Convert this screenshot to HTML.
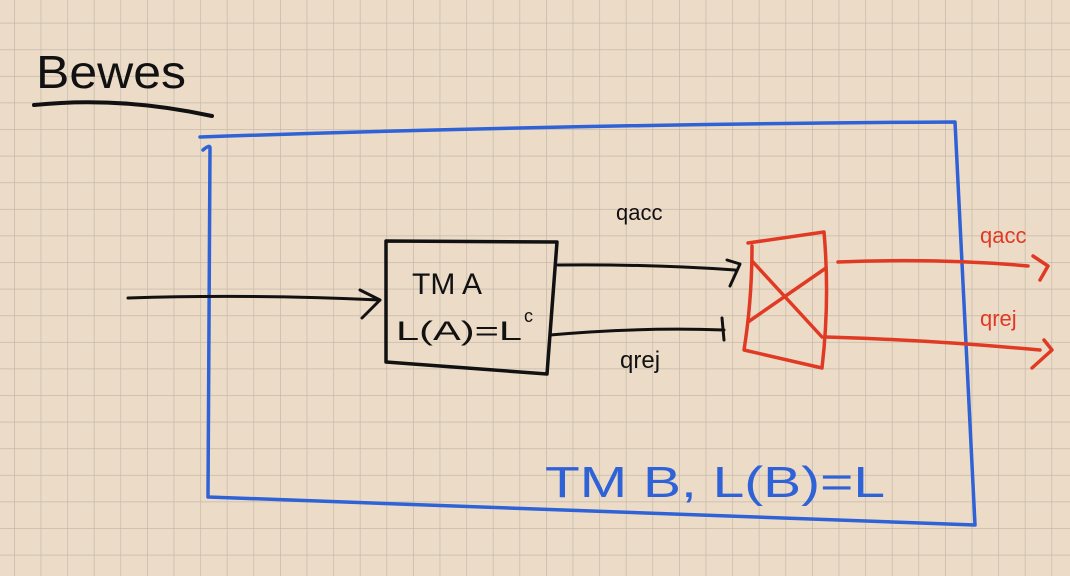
<!DOCTYPE html>
<html><head><style>
html,body{margin:0;padding:0;width:1070px;height:576px;overflow:hidden;background:#ecdcc7;}
svg{display:block}
text{font-family:"Liberation Sans",sans-serif;}
</style></head><body>
<svg width="1070" height="576" viewBox="0 0 1070 576" xmlns="http://www.w3.org/2000/svg">
<defs>
<pattern id="g" x="14" y="22.7" width="26.6" height="26.6" patternUnits="userSpaceOnUse">
<path d="M0 0H26.6M0 0V26.6" stroke="#c5b8aa" stroke-width="1.4" fill="none"/>
</pattern>
</defs>
<rect width="1070" height="576" fill="#ecdcc7"/>
<rect width="1070" height="576" fill="url(#g)"/>
<g fill="none" stroke-linecap="round" stroke-linejoin="round">
<text x="36" y="88" font-size="46" fill="#111" textLength="150" lengthAdjust="spacingAndGlyphs">Bewes</text>
<path d="M34 105 Q120 96 212 116" stroke="#111" stroke-width="4"/>
<path d="M200 137 Q580 124 955 122 L975 525 Q590 512 208 497 L210 148 Q210 144 203 150" stroke="#2f62d6" stroke-width="3.5"/>
<text x="545" y="497" font-size="44" fill="#2f62d6" textLength="340" lengthAdjust="spacingAndGlyphs">TM  B, L(B)=L</text>
<path d="M128 298 Q250 294 380 300 M360 290 L380 300 L362 318" stroke="#111" stroke-width="3"/>
<path d="M386 241 L557 242 L547 374 L386 362 Z" stroke="#111" stroke-width="3.5"/>
<text x="412" y="294" font-size="30" fill="#111">TM  A</text>
<text x="396" y="340" font-size="27" fill="#111" textLength="126" lengthAdjust="spacingAndGlyphs">L(A)=L</text>
<text x="524" y="322" font-size="18" fill="#111">c</text>
<path d="M558 265 Q650 264 735 270 M727 260 L740 264 L730 286" stroke="#111" stroke-width="3"/>
<text x="616" y="220" font-size="22" fill="#111">qacc</text>
<path d="M550 335 Q640 327 724 330 M722 318 L724 340" stroke="#111" stroke-width="3"/>
<text x="620" y="368" font-size="24" fill="#111">qrej</text>
<path d="M748 243 L824 232 Q830 300 822 368 L744 350 Q752 300 752 246 M753 262 L822 337 M748 322 L826 268" stroke="#e03a25" stroke-width="3.5"/>
<path d="M838 262 Q940 258 1028 266 M1033 256 L1048 266 L1040 280" stroke="#e03a25" stroke-width="3.5"/>
<path d="M826 337 Q930 340 1040 350 M1044 340 L1052 350 L1032 368" stroke="#e03a25" stroke-width="3.5"/>
<text x="980" y="243" font-size="22" fill="#e03a25">qacc</text>
<text x="980" y="326" font-size="22" fill="#e03a25">qrej</text>
</g>
</svg>
</body></html>
